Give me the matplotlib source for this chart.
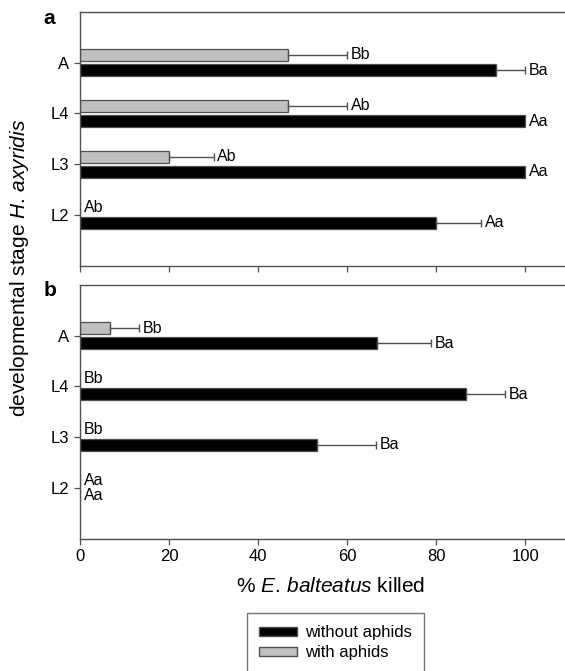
import numpy as np
import matplotlib
matplotlib.use("Agg")
import matplotlib.pyplot as plt
from matplotlib.patches import Patch

plt.rcParams["font.family"] = ["Liberation Sans", "DejaVu Sans"]
plt.rcParams["mathtext.fontset"] = "custom"
plt.rcParams["mathtext.rm"] = "Liberation Sans"
plt.rcParams["mathtext.it"] = "Liberation Sans:italic"

# stades de développement (du bas vers le haut)
stages = ["L2", "L3", "L4", "A"]

# panneau a
a_sans = [80, 100, 100, 93.3]
a_sans_err = [10, 0, 0, 6.7]
a_sans_lbl = ["Aa", "Aa", "Aa", "Ba"]
a_avec = [0, 20, 46.7, 46.7]
a_avec_err = [0, 10, 13.3, 13.3]
a_avec_lbl = ["Ab", "Ab", "Ab", "Bb"]

# panneau b
b_sans = [0, 53.3, 86.7, 66.7]
b_sans_err = [0, 13.1, 8.8, 12.2]
b_sans_lbl = ["Aa", "Ba", "Ba", "Ba"]
b_avec = [0, 0, 0, 6.7]
b_avec_err = [0, 0, 0, 6.6]
b_avec_lbl = ["Aa", "Bb", "Bb", "Bb"]

COUL_SANS = "black"
COUL_AVEC = "#c0c0c0"
COUL_AXE = "#505050"
H = 0.24
DY = 0.15


def panneau(ax, sans, sans_err, sans_lbl, avec, avec_err, avec_lbl):
    y = np.arange(len(stages))
    ax.barh(y + DY, avec, height=H, color=COUL_AVEC, edgecolor=COUL_AXE, linewidth=0.9)
    ax.barh(y - DY, sans, height=H, color=COUL_SANS, edgecolor=COUL_AXE, linewidth=0.9)

    for vals, errs, lbls, yy in ((avec, avec_err, avec_lbl, y + DY),
                                 (sans, sans_err, sans_lbl, y - DY)):
        for v, e, l, yi in zip(vals, errs, lbls, yy):
            if e > 0:
                ax.errorbar(v, yi, xerr=[[0], [e]], fmt="none", ecolor=COUL_AXE,
                            elinewidth=1, capsize=3, capthick=1)
            ax.text(v + e + 0.8, yi, l, fontsize=11.5, va="center", ha="left")

    ax.set_xlim(0, 110)
    ax.set_ylim(-1, 4)
    ax.set_yticks(y)
    ax.set_yticklabels(stages)
    ax.set_xticks(np.arange(0, 101, 20))
    ax.tick_params(axis="both", direction="out", length=4, width=0.9,
                   color=COUL_AXE, labelsize=12)
    ax.spines["right"].set_visible(False)
    for s in ("left", "top", "bottom"):
        ax.spines[s].set_color(COUL_AXE)
        ax.spines[s].set_linewidth(1)


fig = plt.figure(figsize=(5.65, 6.71), dpi=100)
ax_a = fig.add_axes([80 / 565, 1 - 266 / 671, 490 / 565, 254.3 / 671])
ax_b = fig.add_axes([80 / 565, 1 - 538.5 / 671, 490 / 565, 253.5 / 671])

panneau(ax_a, a_sans, a_sans_err, a_sans_lbl, a_avec, a_avec_err, a_avec_lbl)
panneau(ax_b, b_sans, b_sans_err, b_sans_lbl, b_avec, b_avec_err, b_avec_lbl)
ax_a.set_xticklabels([])

fig.text(331 / 565, 1 - 587 / 671, r"% $\it{E.\,balteatus}$ killed",
         fontsize=15, ha="center", va="center")
fig.text(20 / 565, 1 - 268 / 671, r"developmental stage $\it{H.\,axyridis}$",
         rotation=90, fontsize=15, ha="center", va="center")

fig.text(49 / 565, 1 - 19 / 671, "a", fontsize=15, fontweight="bold",
         ha="center", va="center")
fig.text(50 / 565, 1 - 290 / 671, "b", fontsize=15, fontweight="bold",
         ha="center", va="center")

poignees = [Patch(facecolor=COUL_SANS, edgecolor=COUL_AXE, label="without aphids"),
            Patch(facecolor=COUL_AVEC, edgecolor=COUL_AXE, label="with aphids")]
leg = fig.legend(handles=poignees, loc="upper left",
                 bbox_to_anchor=(247 / 565, 1 - 613.3 / 671), fontsize=12,
                 fancybox=False, frameon=True, handlelength=2.3, handleheight=0.45,
                 labelspacing=0.3, borderpad=0.7, handletextpad=0.5,
                 borderaxespad=0)
leg.get_frame().set_edgecolor(COUL_AXE)
leg.get_frame().set_linewidth(1)

fig.savefig("out.png", dpi=100)
